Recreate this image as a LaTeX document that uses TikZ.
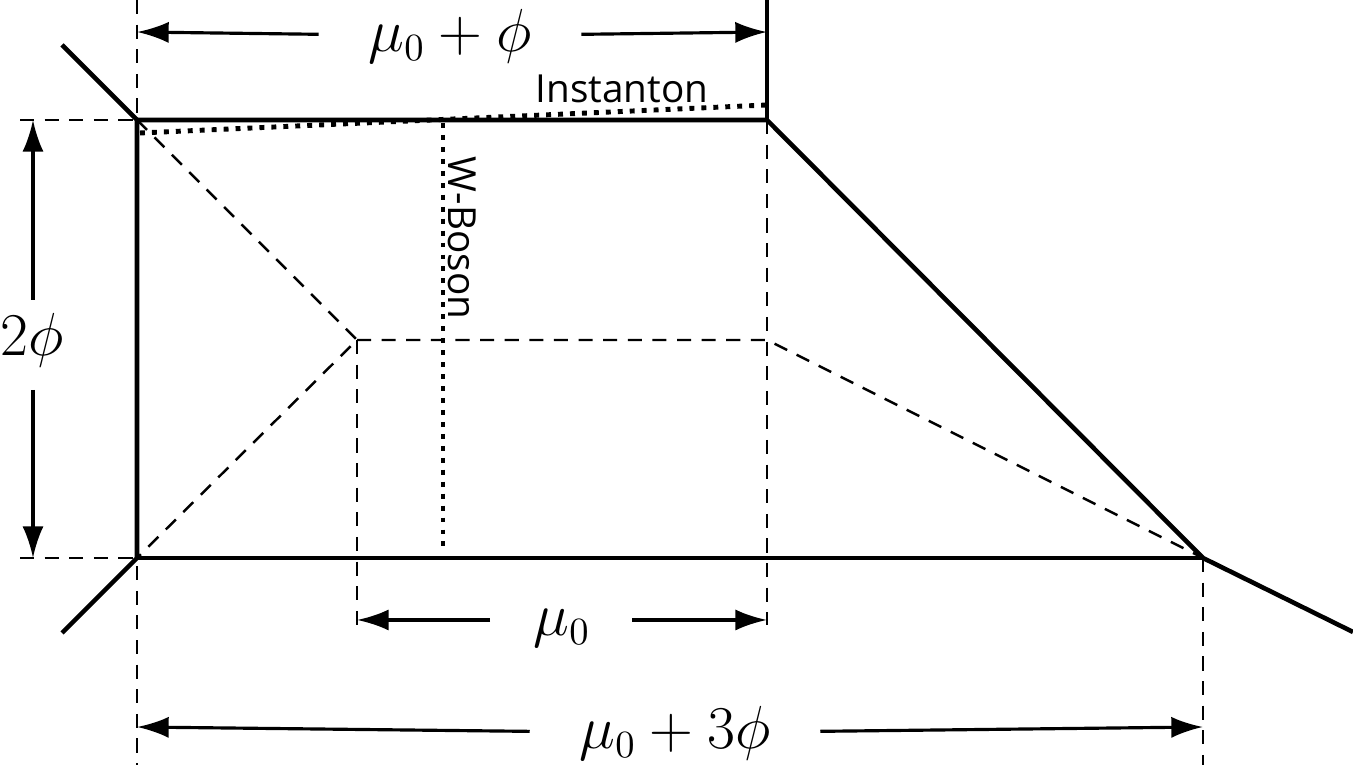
\documentclass[tikz,border=0pt]{standalone}
\usepackage{fontspec}
\newfontfamily\labfont{Open Sans}
\usetikzlibrary{arrows.meta}
\tikzset{
  solidline/.style={line width=1.3pt},
  dashline/.style={dash pattern=on 4pt off 3pt,line width=0.7pt},
  dotline/.style={dotted,line width=1.4pt},
  dimarrow/.style={-{Latex[length=9pt,width=6pt]},line width=0.9pt},
  dimlabel/.style={font=\fontsize{16}{19}\selectfont,inner xsep=14pt},
}
\begin{document}
\begin{tikzpicture}[x=0.01cm,y=-0.01cm]
\useasboundingbox (0,0) rectangle (1353,765);
% corners
\coordinate (tl) at (137,120);
\coordinate (bl) at (137,558);
\coordinate (tr) at (767,120);
\coordinate (br) at (1203,558);
\coordinate (pl) at (357,340);
\coordinate (pr) at (767,340);

% outer solid lines
\draw[solidline] (62,45) -- (tl) -- (bl) -- (62,633);
\draw[solidline] (tl) -- (tr) -- (br) -- (1353,632);
\draw[solidline] (bl) -- (br);
\draw[solidline] (767,0) -- (tr);

% inner dashed
\draw[dashline] (tl) -- (pl) -- (bl);
\draw[dashline] (pl) -- (pr) -- (br);

% guides
\draw[dashline] (137,0) -- (137,765);
\draw[dashline] (tr) -- (767,625);
\draw[dashline] (pl) -- (357,632);
\draw[dashline] (br) -- (1203,765);
\draw[dashline] (20,120) -- (tl);
\draw[dashline] (20,558) -- (bl);

% dotted
\draw[dotline] (140,133) -- (767,105);
\draw[dotline] (443,123) -- (443,552);
\node[font=\labfont\fontsize{11}{13}\selectfont] (inst) at (622,89) {Instanton};
\node[font=\labfont\fontsize{11}{13}\selectfont,rotate=-90] (wbos) at (462,238) {W-Boson};

% dimensions
\node[dimlabel] (top) at (450,36) {$\mu_0+\phi$};
\draw[dimarrow] (top) -- (137,32);
\draw[dimarrow] (top) -- (767,32);
\node[font=\fontsize{16}{19}\selectfont] (left) at (32,340) {$2\phi$};
\draw[dimarrow] (33,300) -- (33,120);
\draw[dimarrow] (33,390) -- (33,558);
\node[dimlabel] (mid) at (562,628) {$\mu_0$};
\draw[dimarrow] (490,620) -- (357,620);
\draw[dimarrow] (632,620) -- (767,620);
\node[dimlabel] (bot) at (675,733) {$\mu_0+3\phi$};
\draw[dimarrow] (bot) -- (137,727);
\draw[dimarrow] (bot) -- (1203,727);
\end{tikzpicture}
\end{document}
